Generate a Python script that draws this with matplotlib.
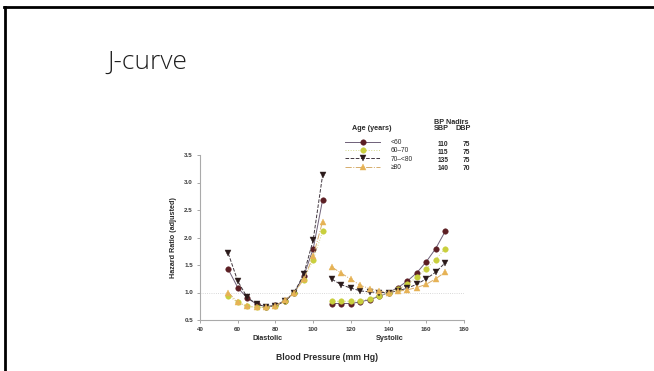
import matplotlib
matplotlib.use("Agg")
import matplotlib.pyplot as plt
from matplotlib.lines import Line2D

# age groups and their BP nadirs
age_groups = ["<60", "60\u201370", "70\u2013<80", "\u226580"]
nadir_sbp = [110, 115, 135, 140]
nadir_dbp = [75, 75, 75, 70]

# diastolic blood pressure (mm Hg) and adjusted hazard ratios
dbp = [55, 60, 65, 70, 75, 80, 85, 90, 95, 100, 105]
hr_dbp_lt60 = [1.42, 1.09, 0.90, 0.79, 0.74, 0.77, 0.85, 1.00, 1.30, 1.79, 2.68]
hr_dbp_60_70 = [0.94, 0.82, 0.75, 0.73, 0.73, 0.76, 0.85, 1.00, 1.23, 1.59, 2.11]
hr_dbp_70_80 = [1.71, 1.21, 0.91, 0.79, 0.74, 0.76, 0.84, 1.00, 1.33, 1.95, 3.13]
hr_dbp_ge80 = [1.00, 0.82, 0.75, 0.73, 0.73, 0.76, 0.86, 1.00, 1.24, 1.66, 2.29]

# systolic blood pressure (mm Hg) and adjusted hazard ratios
sbp = [110, 115, 120, 125, 130, 135, 140, 145, 150, 155, 160, 165, 170]
hr_sbp_lt60 = [0.80, 0.80, 0.80, 0.83, 0.87, 0.93, 1.00, 1.09, 1.21, 1.36, 1.56, 1.80, 2.11]
hr_sbp_60_70 = [0.84, 0.84, 0.84, 0.85, 0.89, 0.94, 1.00, 1.06, 1.15, 1.28, 1.43, 1.60, 1.80]
hr_sbp_70_80 = [1.24, 1.14, 1.08, 1.03, 1.01, 1.00, 1.00, 1.03, 1.08, 1.15, 1.25, 1.37, 1.54]
hr_sbp_ge80 = [1.46, 1.35, 1.24, 1.13, 1.07, 1.03, 1.00, 1.02, 1.05, 1.09, 1.15, 1.25, 1.37]

x_ticks = [40, 60, 80, 100, 120, 140, 160, 180]
y_ticks = [0.5, 1.0, 1.5, 2.0, 2.5, 3.0, 3.5]

dbp_series = [hr_dbp_lt60, hr_dbp_60_70, hr_dbp_70_80, hr_dbp_ge80]
sbp_series = [hr_sbp_lt60, hr_sbp_60_70, hr_sbp_70_80, hr_sbp_ge80]

marker_colors = ["#5c1f24", "#c9cf3c", "#2b1b1b", "#e6b255"]
line_colors = ["#6e6078", "#d4d88a", "#40363e", "#d6ad6c"]
markers = ["o", "o", "v", "^"]
styles = ["-", ":", "--", "-."]

plt.rcParams["font.family"] = ["Liberation Sans", "DejaVu Sans"]
txt = "#2a2a2a"

fig = plt.figure(figsize=(6.54, 3.71), dpi=100)
fig.patch.set_facecolor("white")

# slide frame (top and left edges)
fig.add_artist(Line2D([4 / 654, 1], [1 - 7 / 371, 1 - 7 / 371],
                      transform=fig.transFigure, color="black", lw=2))
fig.add_artist(Line2D([5.5 / 654, 5.5 / 654], [0, 1 - 7 / 371],
                      transform=fig.transFigure, color="black", lw=2))

fig.text(107 / 654, 1 - 62 / 371, "J-curve", fontsize=19, family="Open Sans",
         weight="light", color="#1e1e1e", va="center", ha="left")

ax = fig.add_axes([200 / 654, 1 - 320 / 371, 264 / 654, 165 / 371])
ax.axhline(1.0, color="#cccccc", lw=0.6, ls=":", zorder=1)

handles = []
for i, label in enumerate(age_groups):
    kw = dict(color=line_colors[i], ls=styles[i], lw=0.7, marker=markers[i],
              markersize=4, markerfacecolor=marker_colors[i],
              markeredgecolor=marker_colors[i], markeredgewidth=0.3, zorder=3)
    h, = ax.plot(dbp, dbp_series[i], label=label, **kw)
    ax.plot(sbp, sbp_series[i], **kw)
    handles.append(h)

ax.set_xlim(40, 180)
ax.set_ylim(0.5, 3.5)
ax.set_xticks(x_ticks)
ax.set_yticks(y_ticks)
ax.set_xticklabels([str(v) for v in x_ticks], fontsize=4.5, weight="bold", color="#3a3a3a")
ax.set_yticklabels([f"{v:.1f}" for v in y_ticks], fontsize=4.5, weight="bold", color="#3a3a3a")
ax.tick_params(length=2, width=0.6, color="#999999", pad=3)
for side in ["top", "right"]:
    ax.spines[side].set_visible(False)
for side in ["left", "bottom"]:
    ax.spines[side].set_color("#aaaaaa")
    ax.spines[side].set_linewidth(0.8)

ax.set_ylabel("Hazard Ratio (adjusted)", fontsize=5.2, weight="bold", color=txt,
              labelpad=5)

fig.text(268 / 654, 1 - 338 / 371, "Diastolic", fontsize=5.2, weight="bold",
         color=txt, ha="center", va="center")
fig.text(390 / 654, 1 - 339 / 371, "Systolic", fontsize=5.2, weight="bold",
         color=txt, ha="center", va="center")
fig.text(327 / 654, 1 - 358 / 371, "Blood Pressure (mm Hg)", fontsize=6.2, weight="bold",
         color=txt, ha="center", va="center")

# legend with BP nadir table
leg = fig.legend(handles=handles, loc="upper left",
                 bbox_to_anchor=(345 / 654, 1 - 139 / 371),
                 frameon=False, fontsize=4.8, handlelength=5.3,
                 handletextpad=1.5, labelspacing=0.2, borderpad=0,
                 borderaxespad=0)
for t in leg.get_texts():
    t.set_color(txt)

fig.text(372 / 654, 1 - 129 / 371, "Age (years)", fontsize=5.2, weight="bold",
         color=txt, ha="center", va="center")
fig.text(451 / 654, 1 - 123 / 371, "BP Nadirs", fontsize=5.2, weight="bold",
         color=txt, ha="center", va="center")
fig.text(441 / 654, 1 - 129 / 371, "SBP", fontsize=5.2, weight="bold",
         color=txt, ha="center", va="center")
fig.text(463 / 654, 1 - 129 / 371, "DBP", fontsize=5.2, weight="bold",
         color=txt, ha="center", va="center")
for i in range(len(age_groups)):
    y = 1 - (144 + 8 * i) / 371
    fig.text(443 / 654, y, str(nadir_sbp[i]), fontsize=4.8, weight="bold",
             color=txt, ha="center", va="center")
    fig.text(466 / 654, y, str(nadir_dbp[i]), fontsize=4.8, weight="bold",
             color=txt, ha="center", va="center")

fig.savefig("out.png", dpi=100)
